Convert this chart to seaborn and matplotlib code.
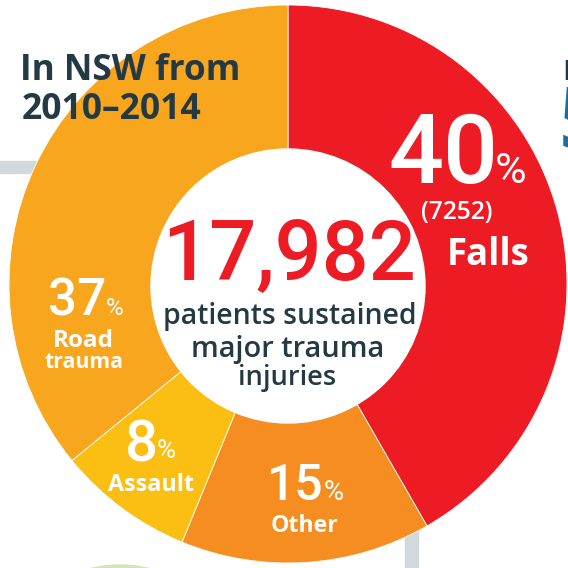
import seaborn as sns
import matplotlib.pyplot as plt
from matplotlib.font_manager import FontProperties
from matplotlib.textpath import TextPath
from matplotlib.patches import Circle, Rectangle

sns.set_theme(style="white")

# slice data, clockwise from 12 o'clock (shares as drawn)
categories = ["Falls", "Other", "Assault", "Road trauma"]
shares = [41.7, 14.5, 7.9, 35.9]
pct_labels = ["40", "15", "8", "37"]
falls_count = "(7252)"
total_patients = "17,982"
colors = ["#ED1C24", "#F68D21", "#FBBF13", "#F9A61F"]

DARK = "#233A45"
NUM_B = FontProperties(family="Roboto", weight="medium")
NUM_R = FontProperties(family="Roboto", weight="normal")
TXT_B = FontProperties(family=["Open Sans", "DejaVu Sans"], weight="bold")
TXT_S = FontProperties(family=["Open Sans", "DejaVu Sans"], weight="semibold")

fig = plt.figure(figsize=(5.68, 5.68), dpi=100)
ax = fig.add_axes([0, 0, 1, 1])

# background frame bits
ax.add_patch(Rectangle((0, 161), 80, 12, color="#D0D9DC", zorder=0))
ax.add_patch(Rectangle((405, 480), 13, 100, color="#D0D9DC", zorder=0))
ax.add_patch(Circle((120, 688), 123, color="#D3E6B5", zorder=0))

ax.pie(shares, colors=colors, startangle=-90, counterclock=True,
       center=(288, 284), radius=279,
       wedgeprops=dict(edgecolor="white", linewidth=0.6, zorder=1))
ax.add_patch(Circle((288, 286), 137, color="white", zorder=3))

ax.set_xlim(0, 568)
ax.set_ylim(568, 0)
ax.set_aspect("equal")
ax.axis("off")

PX = 100 / 72  # pixels per point at dpi 100


def ink(x0, x1, y, cap, s, fp, color="white", slack=1.0, left=None):
    # size by cap height, capped by width; ink centred on x0..x1 (or starting at left)
    ext = TextPath((0, 0), s, size=100, prop=fp).get_extents()
    size_h = 100 * cap / (ext.y1 * PX)
    size_w = 100 * (x1 - x0) * slack / (ext.width * PX)
    size = min(size_h, size_w)
    k = size / 100 * PX
    if left is None:
        left = (x0 + x1) / 2 - ext.width * k / 2
    ax.text(left - ext.x0 * k, y, s, fontproperties=fp, fontsize=size,
            color=color, ha="left", va="baseline", zorder=4)
    return left + ext.width * k


def fit(x0, x1, y, s, fp, color="white"):
    ext = TextPath((0, 0), s, size=100, prop=fp).get_extents()
    k = (x1 - x0) / ext.width
    size = 100 * k / PX
    ax.text(x0 - ext.x0 * k, y, s, fontproperties=fp, fontsize=size,
            color=color, ha="left", va="baseline", zorder=4)


def pct(x0, x1, y, cap, num, pcap, pw, py=None):
    # number, then a small % sign right after it
    right = ink(x0, x1, y, cap, num, NUM_B, slack=1.08)
    ink(0, pw, y if py is None else py, pcap, "%", NUM_R, slack=1.1, left=right + 3)


# title and clipped neighbour text
fit(23, 238, 80, "In NSW from", TXT_B, DARK)
fit(23, 201, 119, "2010\u20132014", TXT_B, DARK)
ax.text(562, 80, "r", fontproperties=TXT_B, fontsize=25, color=DARK,
        ha="left", va="baseline", zorder=4)
ax.text(559, 148, "5", fontproperties=TXT_B, fontsize=62, color="#1B6FA0",
        ha="left", va="baseline", zorder=4)

# centre
ink(185, 397, 280, 72, total_patients, NUM_B, colors[0], slack=1.15)
fit(165, 413, 324, "patients sustained", TXT_S, DARK)
fit(193, 382, 357, "major trauma", TXT_S, DARK)
fit(240, 335, 385, "injuries", TXT_S, DARK)

# Falls
pct(395, 490, 183, 73, pct_labels[0], 36, 25)
fit(422, 492, 219, falls_count, TXT_S)
fit(450, 528, 265, "Falls", TXT_B)

# Other
pct(273, 320, 500, 42, pct_labels[1], 27, 16)
fit(272, 338, 532, "Other", TXT_B)

# Assault
pct(128, 155, 462, 42, pct_labels[2], 23, 15, py=458)
fit(108, 193, 491, "Assault", TXT_B)

# Road trauma
pct(52, 102, 315, 43, pct_labels[3], 28, 14)
fit(55, 112, 347, "Road", TXT_B)
fit(45, 122, 368, "trauma", TXT_B)

fig.savefig("out.png", dpi=100)
